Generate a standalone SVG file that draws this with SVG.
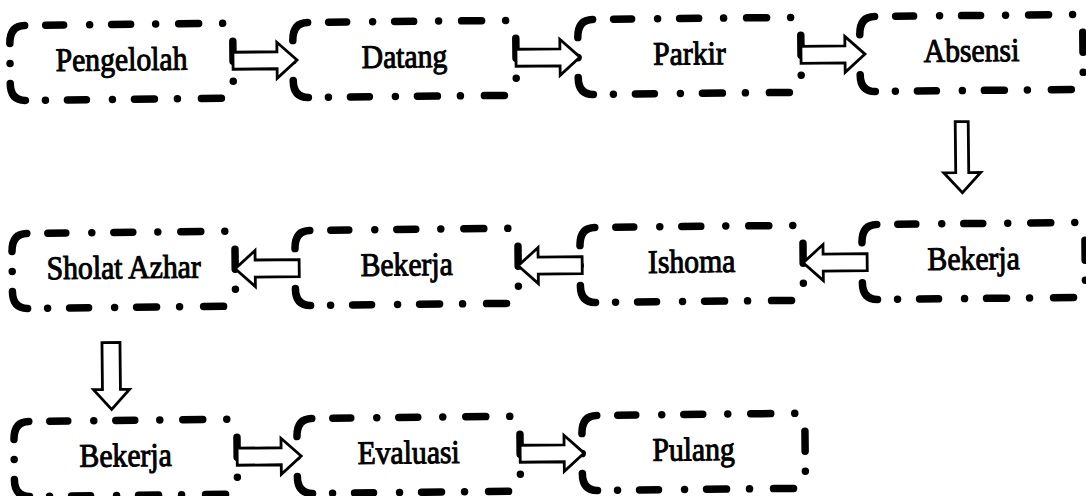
<svg xmlns="http://www.w3.org/2000/svg" width="1086" height="496" viewBox="0 0 1086 496">
<style>
.lb{font-family:"Liberation Serif","Times New Roman",serif;font-size:33px;text-anchor:middle;fill:#000;stroke:#000;stroke-width:1}
.ar{fill:#fff;stroke:#000;stroke-width:2.8;stroke-linejoin:miter}
</style>
<defs>
<path id="box" fill="none" stroke="#000" stroke-width="7.5" stroke-linecap="round" stroke-linejoin="round" d="M0,18 Q0,0 15,0 M36,0 H54 M80,0 h0.01 M102,0 H121 M146,0 h0.01 M169,0 H189 M213,0 h0.01 M223,18 V38 M223,58 v0.01 M0,58 Q0,75 15,75 M35,75 h0.01 M57,75 H76 M102,75 h0.01 M124,75 H144 M167,75 h0.01 M191,75 H211 M0,38 v0.01"/>
<path id="arr" fill="#fff" stroke="#000" stroke-width="2.8" d="M0,-8.5 H44 V-18 L64,0 L44,18 V8.5 H0 Z"/>
</defs>
<rect width="1086" height="496" fill="#fff"/>
<g transform="rotate(-0.6 543 248)">
<g id="n1"><use href="#box" x="12" y="20"/><text class="lb" transform="translate(123.5,66) scale(0.9,1)">Pengelolah</text></g>
<g id="n2"><use href="#box" x="295" y="20"/><text class="lb" transform="translate(406.5,66) scale(0.9,1)">Datang</text></g>
<g id="n3"><use href="#box" x="580" y="20"/><text class="lb" transform="translate(691.5,66) scale(0.9,1)">Parkir</text></g>
<g id="n4"><use href="#box" x="862" y="20"/><text class="lb" transform="translate(973.5,66) scale(0.9,1)">Absensi</text></g>
<g id="n5"><use href="#box" x="862" y="228"/><text class="lb" transform="translate(973.5,274) scale(0.9,1)">Bekerja</text></g>
<g id="n6"><use href="#box" x="580" y="228"/><text class="lb" transform="translate(691.5,274) scale(0.9,1)">Ishoma</text></g>
<g id="n7"><use href="#box" x="295" y="228"/><text class="lb" transform="translate(406.5,274) scale(0.9,1)">Bekerja</text></g>
<g id="n8"><use href="#box" x="12" y="228"/><text class="lb" transform="translate(123.5,274) scale(0.9,1)">Sholat Azhar</text></g>
<g id="n9"><use href="#box" x="12" y="416"/><text class="lb" transform="translate(123.5,462) scale(0.9,1)">Bekerja</text></g>
<g id="n10"><use href="#box" x="295" y="416"/><text class="lb" transform="translate(406.5,462) scale(0.9,1)">Evaluasi</text></g>
<g id="n11"><use href="#box" x="580" y="416"/><text class="lb" transform="translate(691.5,462) scale(0.9,1)">Pulang</text></g>
<g id="connectors">
<use href="#arr" transform="translate(235,57.5)"/>
<use href="#arr" transform="translate(518,57.5)"/>
<use href="#arr" transform="translate(803,57.5)"/>
<path class="ar" d="M956.5,126 V177 H944.5 L963,197 L981.5,177 H969.5 V126 Z"/>
<use href="#arr" transform="translate(867,265.5) scale(-1,1)"/>
<use href="#arr" transform="translate(582,265.5) scale(-1,1)"/>
<use href="#arr" transform="translate(299,265.5) scale(-1,1)"/>
<path class="ar" d="M101,338 V385 H92 L110,405 L128,385 H119 V338 Z"/>
<use href="#arr" transform="translate(235,453.5)"/>
<use href="#arr" transform="translate(518,453.5)"/>
</g>
</g>
</svg>
